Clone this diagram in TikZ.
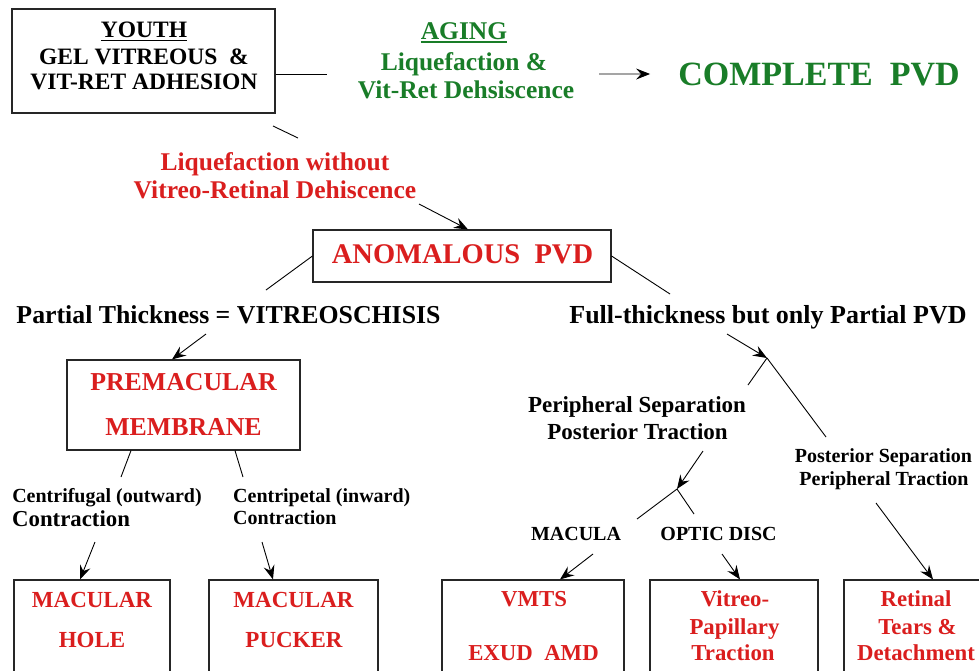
\documentclass[tikz,border=0pt]{standalone}
\usepackage{fontspec}
\setmainfont{Liberation Serif}
\usetikzlibrary{arrows.meta}
\definecolor{rd}{RGB}{218,30,30}
\definecolor{gn}{RGB}{25,125,40}
\newcommand\myul[1]{\setbox0\hbox{#1}\rlap{\raisebox{-3.6pt}{\rule{\wd0}{1.8pt}}}\box0}
\begin{document}
\begin{tikzpicture}[x=1pt,y=-1pt,
  box/.style={draw=black!85, line width=1.1pt, inner sep=0pt},
  t/.style={inner sep=0pt, anchor=base},
  sz/.style={font=\bfseries\fontsize{#1}{#1}\selectfont},
  con/.style={line width=0.9pt},
  arr/.style={con, -{Stealth[length=14pt,width=11pt,inset=5pt]}}
]
\fill[white] (0,0) rectangle (979,670);
\path[use as bounding box] (0,0) rectangle (979,670);
\clip (0,0) rectangle (979,670);

% boxes
\node[box, minimum width=263, minimum height=104] (youth) at (143.5,61) {};
\node[box, minimum width=298, minimum height=52] (anomalous) at (462,256) {};
\node[box, minimum width=233, minimum height=90] (premac) at (183.5,405) {};
\node[box, minimum width=156, minimum height=120] (hole) at (92,640) {};
\node[box, minimum width=169, minimum height=120] (pucker) at (293.5,640) {};
\node[box, minimum width=182, minimum height=120] (vmts) at (533,640) {};
\node[box, minimum width=168, minimum height=120] (papill) at (734,640) {};
\node[box, minimum width=166, minimum height=120] (retinal) at (927,640) {};

% top texts
\node[t, sz=23.5] (youthA) at (144,37.8) {\myul{YOUTH}};
\node[t, sz=23.5] (youthB) at (144,64.8) {GEL VITREOUS \ \&};
\node[t, sz=23.5] (youthC) at (144,89.8) {VIT-RET ADHESION};
\node[t, sz=25.5, text=gn] (agingA) at (464,39.4) {\myul{AGING}};
\node[t, sz=25.5, text=gn] (agingB) at (464,70.4) {Liquefaction \&};
\node[t, sz=25.5, text=gn] (agingC) at (466,98.4) {Vit-Ret Dehsiscence};
\node[t, sz=34, text=gn] (complete) at (819,85) {COMPLETE \ PVD};
\node[t, sz=25.5, text=rd] (liqA) at (275,170.4) {Liquefaction without};
\node[t, sz=25.5, text=rd] (liqB) at (275,198.4) {Vitreo-Retinal Dehiscence};
\node[t, sz=28.5, text=rd] (anomT) at (462.5,263.3) {ANOMALOUS \ PVD};

% level 2
\node[t, sz=25.8] (partial) at (228.5,323) {Partial Thickness = VITREOSCHISIS};
\node[t, sz=26] (full) at (768,323) {Full-thickness but only Partial PVD};
\node[t, sz=25.8, text=rd] (premA) at (183.5,390) {PREMACULAR};
\node[t, sz=25.8, text=rd] (premB) at (183.5,435) {MEMBRANE};

\node[t, sz=20] (cfA) at (107,502) {Centrifugal (outward)};
\node[t, sz=22.8, anchor=base west] (cfB) at (12,526) {Contraction};
\node[t, sz=20, anchor=base west] (cpA) at (233,502) {Centripetal (inward)};
\node[t, sz=20, anchor=base west] (cpB) at (233,524) {Contraction};

\node[t, sz=23, text=rd] (holeA) at (92,607) {MACULAR};
\node[t, sz=23, text=rd] (holeB) at (92,647) {HOLE};
\node[t, sz=23, text=rd] (puckA) at (293.5,607) {MACULAR};
\node[t, sz=23, text=rd] (puckB) at (294,647) {PUCKER};

\node[t, sz=23] (perA) at (637,412.7) {Peripheral Separation};
\node[t, sz=23] (perB) at (637.5,439) {Posterior Traction};
\node[t, sz=20] (posA) at (883.5,462) {Posterior Separation};
\node[t, sz=20] (posB) at (884,485) {Peripheral Traction};
\node[t, sz=20] (macula) at (576,540) {MACULA};
\node[t, sz=20] (optic) at (718.5,540) {OPTIC DISC};

\node[t, sz=22.8, text=rd] (vmtsA) at (534,606.7) {VMTS};
\node[t, sz=22.8, text=rd] (vmtsB) at (533.5,660.7) {EXUD \ AMD};
\node[t, sz=22.8, text=rd] (papA) at (735,606.7) {Vitreo-};
\node[t, sz=22.8, text=rd] (papB) at (734.5,634) {Papillary};
\node[t, sz=22.8, text=rd] (papC) at (733,660.7) {Traction};
\node[t, sz=22.8, text=rd] (retA) at (916,606.7) {Retinal};
\node[t, sz=22.8, text=rd] (retB) at (917.5,634) {Tears \&};
\node[t, sz=22.8, text=rd] (retC) at (916,660.7) {Detachment};

% connectors
\coordinate (c1) at (327,74);
\draw[con] (youth.east |- c1) -- (c1);
\coordinate (c2) at (599,74);
\draw[arr] (c2) -- ([xshift=-28pt]complete.west);
\coordinate (c3a) at (273,126);
\coordinate (c3b) at (298,138);
\draw[con] (c3a) -- (c3b);
\coordinate (c4) at (419,204);
\draw[arr] (c4) -- ([xshift=6pt]anomalous.north);
\coordinate (c5) at (266,290);
\draw[con] (anomalous.west) -- (c5);
\coordinate (c6) at (670,294);
\draw[con] (anomalous.east) -- (c6);
\coordinate (c7) at (206,334);
\draw[arr] (c7) -- ([xshift=-11.5pt]premac.north);
\coordinate (c8) at (121,477);
\draw[con] ([xshift=-52.5pt]premac.south) -- (c8);
\coordinate (c9) at (243,477);
\draw[con] ([xshift=51.5pt]premac.south) -- (c9);
\coordinate (c10) at (95,542);
\draw[arr] (c10) -- ([xshift=-12pt]hole.north);
\coordinate (c11) at (262,542);
\draw[arr] (c11) -- ([xshift=-20.5pt]pucker.north);

\coordinate (c12) at (727,334);
\coordinate (br1) at (767,358);
\draw[arr] (c12) -- (br1);
\coordinate (c13) at (748,385);
\coordinate (c14) at (826,437);
\draw[con] (br1) -- (c13);
\draw[con] (br1) -- (c14);
\coordinate (c15) at (703,451);
\coordinate (br2) at (677,489);
\draw[arr] (c15) -- (br2);
\coordinate (c16) at (637,519);
\coordinate (c17) at (694,514);
\draw[con] (br2) -- (c16);
\draw[con] (br2) -- (c17);
\coordinate (c18) at (593,554);
\draw[arr] (c18) -- ([xshift=27pt]vmts.north);
\coordinate (c19) at (722,554);
\draw[arr] (c19) -- ([xshift=6pt]papill.north);
\coordinate (c20) at (876,503);
\draw[arr] (c20) -- ([xshift=6pt]retinal.north);
\end{tikzpicture}
\end{document}
